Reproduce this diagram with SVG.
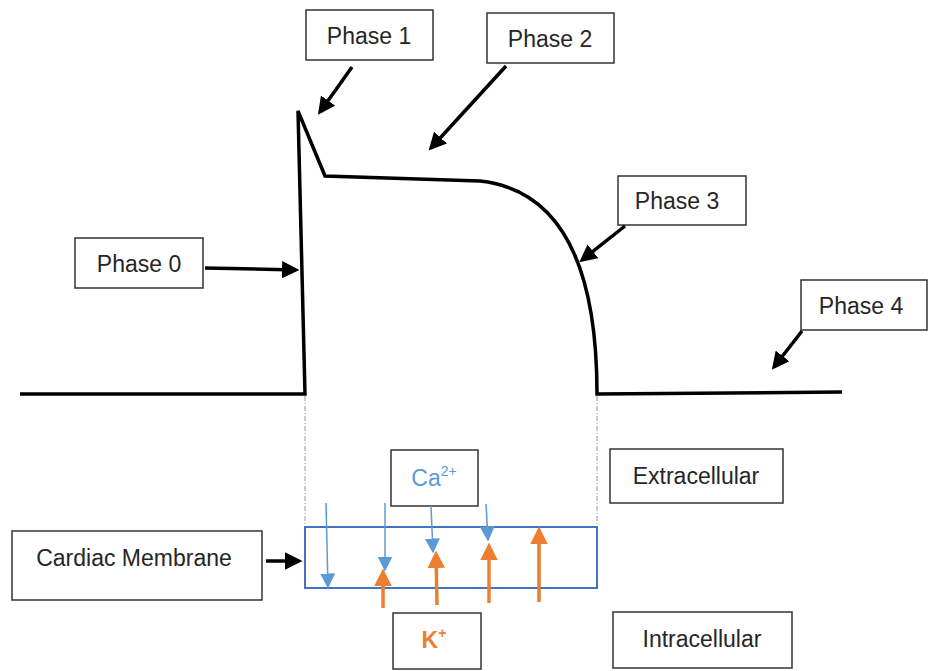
<svg xmlns="http://www.w3.org/2000/svg" width="929" height="671" viewBox="0 0 929 671">
<style>
.box{fill:#fff;stroke:#333;stroke-width:1.5}
.lbl{font-family:"Liberation Sans",Arial,sans-serif;font-size:23px;fill:#262626;text-anchor:middle;dominant-baseline:central}
.arr{stroke:#000;stroke-width:3.5;fill:none;marker-end:url(#ah)}
.blue{stroke:#5B9BD5;stroke-width:1.5;fill:none;marker-end:url(#bh)}
.orng{stroke:#ED7D31;stroke-width:3.5;fill:none;marker-end:url(#oh)}
.trace{stroke:#000;stroke-width:3.5;fill:none;stroke-linejoin:miter}
.guide{stroke:#999;stroke-width:1;stroke-dasharray:5 2 1 2;fill:none}
</style>
<defs>
<marker id="ah" markerWidth="5" markerHeight="5" refX="4" refY="2.5" orient="auto" markerUnits="strokeWidth"><path d="M0,0 L5,2.5 L0,5 z" fill="#000"/></marker>
<marker id="bh" markerWidth="10" markerHeight="10" refX="9" refY="5" orient="auto" markerUnits="strokeWidth"><path d="M0,0 L10,5 L0,10 z" fill="#5B9BD5"/></marker>
<marker id="oh" markerWidth="5" markerHeight="5" refX="4" refY="2.5" orient="auto" markerUnits="strokeWidth"><path d="M0,0 L5,2.5 L0,5 z" fill="#ED7D31"/></marker>
</defs>
<rect width="929" height="671" fill="#fff"/>
<g id="trace">
<path class="trace" d="M20 394 L305 394 L298 111 L325 176 L480 181 C545 188 597 240 597 394 L842 392"/>
</g>
<g id="guides">
<line class="guide" x1="305" y1="396" x2="305" y2="527"/>
<line class="guide" x1="597" y1="396" x2="597" y2="527"/>
</g>
<g id="membrane"><rect x="305" y="527" width="292" height="61" fill="none" stroke="#4472C4" stroke-width="2"/></g>
<g id="phase0"><rect class="box" x="75" y="238" width="128" height="50"/><text class="lbl" x="139" y="264">Phase 0</text></g>
<g id="phase1"><rect class="box" x="306" y="10" width="127" height="50"/><text class="lbl" x="369" y="36">Phase 1</text></g>
<g id="phase2"><rect class="box" x="487" y="13" width="127" height="50"/><text class="lbl" x="550" y="39">Phase 2</text></g>
<g id="phase3"><rect class="box" x="618" y="176" width="128" height="49"/><text class="lbl" x="677" y="201">Phase 3</text></g>
<g id="phase4"><rect class="box" x="801" y="280" width="126" height="50"/><text class="lbl" x="861" y="306">Phase 4</text></g>
<g id="extracellular"><rect class="box" x="610" y="449" width="173" height="54"/><text class="lbl" x="696" y="476">Extracellular</text></g>
<g id="intracellular"><rect class="box" x="613" y="612" width="179" height="56"/><text class="lbl" x="702" y="639">Intracellular</text></g>
<g id="cardiac-membrane"><rect class="box" x="12" y="531" width="250" height="69"/><text class="lbl" x="134" y="558">Cardiac Membrane</text></g>
<g id="ca"><rect class="box" x="391" y="450" width="87" height="56"/><text class="lbl" x="434" y="478" style="fill:#5B9BD5">Ca<tspan font-size="14" dy="-7">2+</tspan></text></g>
<g id="k"><rect class="box" x="393" y="613" width="88" height="56"/><text class="lbl" x="434" y="640" style="fill:#ED7D31;font-weight:bold">K<tspan font-size="14" dy="-7">+</tspan></text></g>
<g id="connectors">
<line class="arr" x1="352" y1="67" x2="320" y2="112"/>
<line class="arr" x1="506" y1="66" x2="431" y2="148"/>
<line class="arr" x1="205" y1="268" x2="296" y2="270"/>
<line class="arr" x1="625" y1="226" x2="582" y2="260"/>
<line class="arr" x1="802" y1="331" x2="774" y2="367"/>
<line class="arr" x1="266" y1="561" x2="299" y2="561"/>
<line class="blue" x1="326" y1="503" x2="328" y2="587"/>
<line class="blue" x1="385" y1="503" x2="385" y2="570"/>
<line class="blue" x1="431" y1="506" x2="433" y2="552"/>
<line class="blue" x1="486" y1="504" x2="488" y2="540"/>
<line class="orng" x1="383" y1="608" x2="383" y2="572"/>
<line class="orng" x1="437" y1="605" x2="436" y2="554"/>
<line class="orng" x1="489" y1="603" x2="489" y2="546"/>
<line class="orng" x1="539" y1="602" x2="539" y2="530"/>
</g>
</svg>
